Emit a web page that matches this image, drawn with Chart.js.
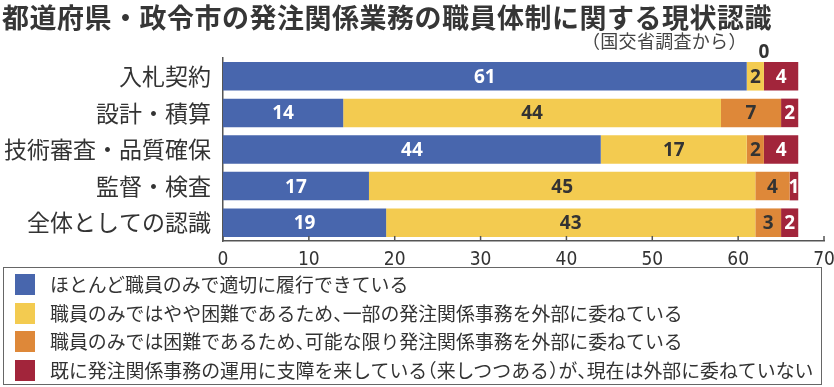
<!DOCTYPE html>
<html>
<head>
<meta charset="utf-8">
<script src="https://cdn.jsdelivr.net/npm/chart.js@4"></script>
<style>
  body { margin: 0; background: #fff; }
  #wrap { position: relative; width: 834px; height: 387px; overflow: hidden; font-family: "Noto Sans CJK JP", sans-serif; color: #333; }
  #myChart { position: absolute; left: 0; top: 0; }
  .titulo { position: absolute; left: 2px; top: 0px; font-size: 27px; line-height: 33px; font-weight: bold; color: #363636; letter-spacing: 0.5px; white-space: nowrap; }
  .sub { position: absolute; left: 582px; top: 29px; font-size: 18px; line-height: 22px; color: #444; white-space: nowrap; letter-spacing: 0.3px; }
  .leyenda { position: absolute; left: 3px; top: 267px; width: 817px; height: 116px; border: 1.5px solid #666; }
  .item { position: absolute; left: 0; height: 22px; line-height: 22px; font-size: 18.9px; white-space: nowrap; }
  .item span.c { position: absolute; left: 11px; top: 0; width: 20px; height: 21px; }
  .item span.t { position: absolute; left: 46px; top: -1px; }
  .pa { margin-left: -0.5em; }
  .pc { letter-spacing: -0.5em; }
</style>
</head>
<body>
<div id="wrap">
  <canvas id="myChart" width="834" height="387"></canvas>
  <div class="titulo">都道府県・政令市の発注関係業務の職員体制に関する現状認識</div>
  <div class="sub">（国交省調査から）</div>
  <div class="leyenda" id="leyenda"></div>
</div>
<script>
// categorias y series (numero de organismos, total 67)
var categorias = ['入札契約', '設計・積算', '技術審査・品質確保', '監督・検査', '全体としての認識'];
var serie1 = [61, 14, 44, 17, 19];
var serie2 = [2, 44, 17, 45, 43];
var serie3 = [0, 7, 2, 4, 3];
var serie4 = [4, 2, 4, 1, 2];
var nombres = [
    'ほとんど職員のみで適切に履行できている',
    '職員のみではやや困難であるため、一部の発注関係事務を外部に委ねている',
    '職員のみでは困難であるため、可能な限り発注関係事務を外部に委ねている',
    '既に発注関係事務の運用に支障を来している（来しつつある）が、現在は外部に委ねていない'
];
var colores = ['#4866ad', '#f3cb50', '#de8839', '#a2253b'];
var coloresTexto = ['#ffffff', '#333333', '#333333', '#ffffff'];
var ticksX = [0, 10, 20, 30, 40, 50, 60, 70];

// leyenda en html (puntuacion estrecha como en el original)
function estrecho(txt) {
    return txt.replace(/（/g, '<span class="pa">（</span>')
              .replace(/）/g, '<span class="pc">）</span>')
              .replace(/、/g, '<span class="pc">、</span>');
}
var ley = document.getElementById('leyenda');
for (var i = 0; i < nombres.length; i++) {
    var d = document.createElement('div');
    d.className = 'item';
    d.style.top = (6 + i * 28.5) + 'px';
    d.innerHTML = '<span class="c" style="background:' + colores[i] + '"></span><span class="t">' + estrecho(nombres[i]) + '</span>';
    ley.appendChild(d);
}

// etiquetas dentro de las barras
var etiquetas = {
    id: 'etiquetas',
    afterDatasetsDraw: function (chart) {
        var ctx = chart.ctx;
        ctx.save();
        ctx.font = 'bold 19px "Noto Sans", sans-serif';
        ctx.textAlign = 'center';
        ctx.textBaseline = 'middle';
        chart.data.datasets.forEach(function (ds, di) {
            chart.getDatasetMeta(di).data.forEach(function (el, j) {
                var v = ds.data[j];
                if (v === 0) {
                    ctx.fillStyle = '#333';
                    ctx.fillText(String(v), el.x, el.y - el.height / 2 - 9);
                } else {
                    ctx.fillStyle = coloresTexto[di];
                    ctx.fillText(String(v), (el.x + el.base) / 2, el.y + 1);
                }
            });
        });
        ctx.restore();
    },
    afterDraw: function (chart) {
        // marcas del eje x hacia dentro
        var ctx = chart.ctx;
        var sx = chart.scales.x;
        var yb = chart.chartArea.bottom;
        ctx.save();
        ctx.strokeStyle = '#555';
        ctx.lineWidth = 1.5;
        ticksX.forEach(function (t) {
            var px = sx.getPixelForValue(t);
            ctx.beginPath();
            ctx.moveTo(px, yb);
            ctx.lineTo(px, yb - 5);
            ctx.stroke();
        });
        ctx.restore();
    }
};

var ctx = document.getElementById('myChart').getContext('2d');
var chart = new Chart(ctx, {
    type: 'bar',
    data: {
        labels: categorias,
        datasets: [serie1, serie2, serie3, serie4].map(function (s, i) {
            return {
                label: nombres[i],
                data: s,
                backgroundColor: colores[i],
                borderWidth: 0,
                categoryPercentage: 1,
                barPercentage: 0.78
            };
        })
    },
    options: {
        indexAxis: 'y',
        responsive: false,
        animation: false,
        layout: { padding: { top: 58, right: 10, bottom: 120, left: 0 } },
        plugins: { legend: { display: false }, tooltip: { enabled: false } },
        scales: {
            x: {
                stacked: true,
                min: 0,
                max: 70,
                afterBuildTicks: function (s) { s.ticks = ticksX.map(function (v) { return { value: v }; }); },
                afterFit: function (s) { s.height = 26; s.paddingLeft = 0; s.paddingRight = 0; },
                grid: { display: false, drawTicks: false },
                border: { display: true, color: '#555', width: 1.5 },
                ticks: { padding: 8, color: '#333', font: { family: '"Liberation Sans Narrow", "DejaVu Sans Condensed", sans-serif', size: 19 } }
            },
            y: {
                stacked: true,
                afterFit: function (s) { s.width = 223; s.paddingTop = 0; s.paddingBottom = 0; },
                grid: { display: false, drawTicks: false },
                border: { display: true, color: '#555', width: 1.5 },
                ticks: { padding: 12, color: '#333', font: { family: '"Noto Sans CJK JP", sans-serif', size: 23 } }
            }
        }
    },
    plugins: [etiquetas]
});
</script>
</body>
</html>
